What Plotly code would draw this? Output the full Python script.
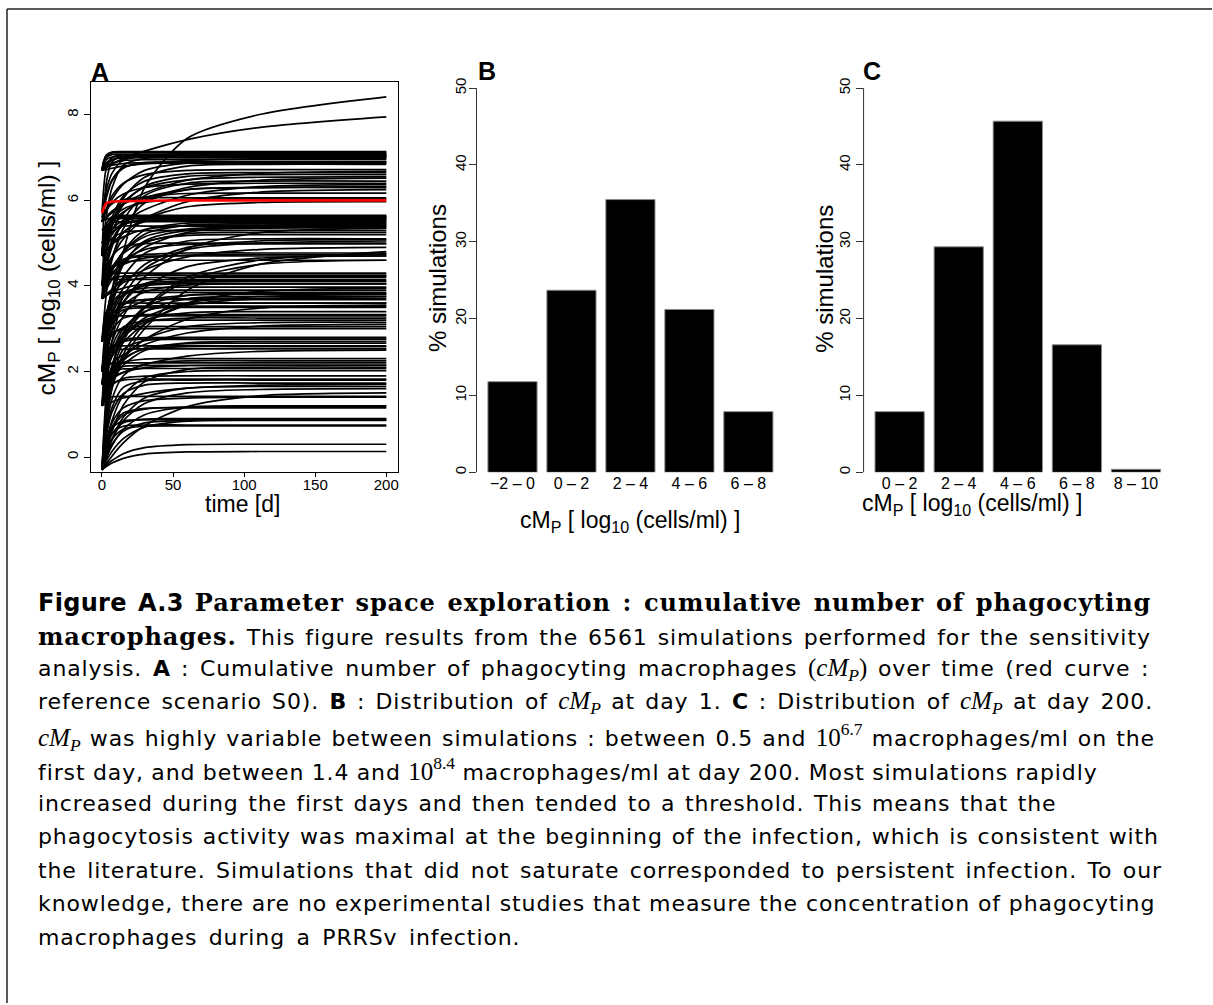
import plotly.graph_objects as go

W, H = 1213, 1005

# ---------------- data ----------------
TIME_D = [0, 1, 3, 7, 15, 30, 60, 110, 200]

CURVES_CMP = [
    [6.7, 6.87, 7.03, 7.11, 7.12, 7.12, 7.12, 7.12, 7.12],
    [6.7, 6.85, 7.0, 7.07, 7.08, 7.08, 7.08, 7.08, 7.08],
    [6.7, 6.75, 6.84, 6.94, 7.02, 7.05, 7.05, 7.05, 7.05],
    [6.7, 6.72, 6.77, 6.85, 6.95, 7.04, 7.09, 7.1, 7.1],
    [6.7, 6.83, 6.95, 7.01, 7.02, 7.02, 7.02, 7.02, 7.02],
    [6.7, 6.74, 6.8, 6.87, 6.93, 6.95, 6.95, 6.95, 6.95],
    [5.5, 5.58, 5.75, 6.02, 6.38, 6.7, 6.87, 6.9, 6.9],
    [5.6, 5.79, 6.11, 6.48, 6.77, 6.86, 6.87, 6.87, 6.87],
    [4.7, 4.83, 5.09, 5.49, 6.05, 6.54, 6.8, 6.84, 6.84],
    [5.7, 5.9, 6.24, 6.63, 6.94, 7.04, 7.05, 7.05, 7.05],
    [4.7, 5.05, 5.62, 6.29, 6.82, 6.98, 7.0, 7.0, 7.0],
    [6.7, 6.71, 6.72, 6.75, 6.8, 6.86, 6.93, 6.97, 6.98],
    [6.7, 6.72, 6.76, 6.85, 6.98, 7.15, 7.42, 7.7, 7.95],
    [2.0, 2.2, 2.6, 3.5, 4.8, 6.3, 7.45, 8.0, 8.42],
    [5.5, 5.54, 5.59, 5.71, 5.91, 6.17, 6.47, 6.63, 6.68],
    [4.7, 4.81, 5.04, 5.4, 5.9, 6.33, 6.56, 6.6, 6.6],
    [5.3, 5.34, 5.4, 5.52, 5.73, 6.0, 6.3, 6.47, 6.52],
    [4.0, 4.15, 4.44, 4.91, 5.54, 6.11, 6.4, 6.45, 6.45],
    [5.0, 5.04, 5.11, 5.25, 5.48, 5.78, 6.12, 6.32, 6.37],
    [4.7, 4.75, 4.82, 4.98, 5.24, 5.58, 5.97, 6.19, 6.25],
    [5.5, 5.54, 5.62, 5.75, 5.92, 6.08, 6.16, 6.17, 6.17],
    [5.6, 5.67, 5.78, 5.92, 6.02, 6.06, 6.06, 6.06, 6.06],
    [4.0, 4.3, 4.8, 5.4, 5.95, 6.3, 6.48, 6.54, 6.55],
    [3.7, 3.86, 4.17, 4.66, 5.34, 5.94, 6.25, 6.3, 6.3],
    [4.7, 5.08, 5.44, 5.62, 5.65, 5.65, 5.65, 5.65, 5.65],
    [4.7, 4.84, 5.06, 5.32, 5.53, 5.59, 5.6, 5.6, 5.6],
    [5.5, 5.53, 5.56, 5.58, 5.58, 5.58, 5.58, 5.58, 5.58],
    [4.0, 4.23, 4.62, 5.07, 5.43, 5.53, 5.55, 5.55, 5.55],
    [4.7, 5.02, 5.32, 5.48, 5.5, 5.5, 5.5, 5.5, 5.5],
    [3.7, 3.81, 4.02, 4.35, 4.8, 5.21, 5.42, 5.45, 5.45],
    [4.7, 4.74, 4.83, 4.97, 5.15, 5.32, 5.41, 5.42, 5.42],
    [2.7, 2.78, 2.91, 3.18, 3.63, 4.21, 4.87, 5.24, 5.35],
    [4.0, 4.65, 5.26, 5.57, 5.62, 5.62, 5.62, 5.62, 5.62],
    [4.7, 4.79, 4.94, 5.11, 5.25, 5.29, 5.3, 5.3, 5.3],
    [3.7, 3.98, 4.45, 5.0, 5.43, 5.56, 5.58, 5.58, 5.58],
    [4.0, 4.07, 4.22, 4.44, 4.76, 5.03, 5.18, 5.2, 5.2],
    [2.7, 2.84, 3.13, 3.59, 4.21, 4.76, 5.05, 5.1, 5.1],
    [4.0, 4.15, 4.4, 4.69, 4.92, 4.99, 5.0, 5.0, 5.0],
    [3.7, 3.74, 3.8, 3.92, 4.12, 4.38, 4.68, 4.85, 4.9],
    [1.2, 1.25, 1.4, 1.75, 2.3, 3.0, 3.9, 4.5, 4.8],
    [3.7, 3.85, 4.1, 4.39, 4.62, 4.69, 4.7, 4.7, 4.7],
    [2.0, 2.08, 2.21, 2.47, 2.91, 3.48, 4.13, 4.5, 4.6],
    [4.0, 4.12, 4.23, 4.29, 4.3, 4.3, 4.3, 4.3, 4.3],
    [4.0, 4.04, 4.1, 4.17, 4.23, 4.25, 4.25, 4.25, 4.25],
    [2.7, 2.93, 3.3, 3.74, 4.08, 4.19, 4.2, 4.2, 4.2],
    [4.0, 4.06, 4.12, 4.15, 4.15, 4.15, 4.15, 4.15, 4.15],
    [3.7, 3.72, 3.77, 3.85, 3.95, 4.04, 4.09, 4.1, 4.1],
    [2.7, 2.78, 2.94, 3.2, 3.55, 3.86, 4.02, 4.05, 4.05],
    [2.0, 2.06, 2.16, 2.35, 2.68, 3.11, 3.6, 3.87, 3.95],
    [2.7, 2.88, 3.18, 3.53, 3.8, 3.89, 3.9, 3.9, 3.9],
    [3.7, 3.76, 3.82, 3.85, 3.85, 3.85, 3.85, 3.85, 3.85],
    [2.7, 2.77, 2.9, 3.11, 3.39, 3.65, 3.78, 3.8, 3.8],
    [1.2, 1.35, 1.66, 2.14, 2.81, 3.39, 3.7, 3.75, 3.75],
    [2.0, 2.26, 2.68, 3.17, 3.56, 3.68, 3.7, 3.7, 3.7],
    [2.7, 3.06, 3.4, 3.57, 3.6, 3.6, 3.6, 3.6, 3.6],
    [1.7, 1.76, 1.85, 2.03, 2.35, 2.75, 3.22, 3.48, 3.55],
    [2.7, 2.82, 3.02, 3.25, 3.44, 3.49, 3.5, 3.5, 3.5],
    [-0.3, 0.1, 0.8, 1.6, 2.4, 3.1, 3.55, 3.7, 3.75],
    [2.0, 2.08, 2.25, 2.52, 2.88, 3.2, 3.37, 3.4, 3.4],
    [2.7, 2.94, 3.17, 3.28, 3.3, 3.3, 3.3, 3.3, 3.3],
    [1.2, 1.5, 2.0, 2.58, 3.04, 3.18, 3.2, 3.2, 3.2],
    [2.0, 2.03, 2.09, 2.2, 2.39, 2.63, 2.9, 3.06, 3.1],
    [2.7, 2.75, 2.82, 2.91, 2.98, 3.0, 3.0, 3.0, 3.0],
    [2.0, 2.12, 2.32, 2.55, 2.74, 2.79, 2.8, 2.8, 2.8],
    [1.2, 1.29, 1.47, 1.76, 2.15, 2.49, 2.67, 2.7, 2.7],
    [2.0, 2.24, 2.47, 2.58, 2.6, 2.6, 2.6, 2.6, 2.6],
    [1.7, 1.72, 1.76, 1.84, 1.98, 2.16, 2.36, 2.47, 2.5],
    [-0.3, 0.16, 0.92, 1.8, 2.51, 2.72, 2.75, 2.75, 2.75],
    [1.2, 1.37, 1.64, 1.96, 2.21, 2.29, 2.3, 2.3, 2.3],
    [2.0, 2.08, 2.16, 2.19, 2.2, 2.2, 2.2, 2.2, 2.2],
    [1.7, 1.73, 1.78, 1.87, 1.98, 2.09, 2.14, 2.15, 2.15],
    [-0.3, -0.16, 0.13, 0.59, 1.21, 1.76, 2.05, 2.1, 2.1],
    [1.2, 1.31, 1.48, 1.68, 1.84, 1.89, 1.9, 1.9, 1.9],
    [-0.3, 0.02, 0.54, 1.15, 1.63, 1.78, 1.8, 1.8, 1.8],
    [1.2, 1.22, 1.24, 1.29, 1.38, 1.49, 1.61, 1.68, 1.7],
    [-0.3, -0.18, 0.05, 0.42, 0.93, 1.38, 1.61, 1.65, 1.65],
    [-0.3, -0.25, -0.16, 0.02, 0.33, 0.73, 1.18, 1.43, 1.5],
    [1.2, 1.29, 1.37, 1.41, 1.42, 1.42, 1.42, 1.42, 1.42],
    [-0.3, -0.21, -0.03, 0.26, 0.65, 0.99, 1.17, 1.2, 1.2],
    [-0.3, -0.08, 0.28, 0.7, 1.03, 1.14, 1.15, 1.15, 1.15],
    [-0.3, -0.12, 0.18, 0.53, 0.8, 0.89, 0.9, 0.9, 0.9],
    [-0.3, -0.23, -0.09, 0.13, 0.43, 0.7, 0.84, 0.86, 0.86],
    [-0.3, -0.15, 0.11, 0.41, 0.65, 0.72, 0.73, 0.73, 0.73],
    [-0.3, -0.26, -0.19, -0.08, 0.08, 0.22, 0.29, 0.3, 0.3],
    [-0.3, -0.27, -0.22, -0.14, -0.03, 0.07, 0.12, 0.13, 0.13],
    [6.7, 6.9, 7.06, 7.13, 7.14, 7.14, 7.14, 7.14, 7.14],
    [5.7, 6.2, 6.75, 7.0, 7.06, 7.07, 7.07, 7.07, 7.07],
    [4.7, 5.5, 6.4, 6.9, 7.03, 7.04, 7.04, 7.04, 7.04],
    [6.7, 6.78, 6.88, 6.96, 6.99, 7.0, 7.0, 7.0, 7.0],
    [5.5, 5.7, 6.05, 6.45, 6.75, 6.88, 6.9, 6.9, 6.9],
    [6.7, 6.73, 6.77, 6.82, 6.86, 6.88, 6.88, 6.88, 6.88],
    [4.7, 5.1, 5.45, 5.6, 5.63, 5.63, 5.63, 5.63, 5.63],
    [3.7, 4.3, 5.0, 5.45, 5.6, 5.61, 5.61, 5.61, 5.61],
    [2.7, 3.1, 3.8, 4.6, 5.25, 5.5, 5.55, 5.55, 5.55],
    [4.0, 4.3, 4.8, 5.2, 5.45, 5.52, 5.52, 5.52, 5.52],
    [1.2, 1.8, 2.8, 3.9, 4.8, 5.3, 5.47, 5.48, 5.48],
    [4.7, 4.9, 5.15, 5.33, 5.4, 5.4, 5.4, 5.4, 5.4],
    [2.0, 2.3, 2.9, 3.7, 4.5, 5.05, 5.3, 5.35, 5.35],
    [3.7, 3.8, 4.0, 4.35, 4.8, 5.15, 5.33, 5.37, 5.38],
    [2.7, 2.9, 3.3, 3.9, 4.55, 5.0, 5.22, 5.25, 5.25],
    [1.7, 1.9, 2.3, 2.95, 3.75, 4.4, 4.85, 5.0, 5.05],
    [3.7, 3.8, 3.98, 4.25, 4.58, 4.85, 4.97, 4.98, 4.98],
    [1.2, 1.3, 1.55, 2.0, 2.7, 3.5, 4.2, 4.6, 4.75],
    [4.0, 4.1, 4.25, 4.45, 4.62, 4.73, 4.77, 4.77, 4.77],
    [2.0, 2.5, 3.2, 3.85, 4.18, 4.25, 4.25, 4.25, 4.25],
    [-0.3, 0.4, 1.5, 2.7, 3.6, 4.05, 4.2, 4.22, 4.22],
    [1.2, 1.6, 2.3, 3.1, 3.75, 4.05, 4.12, 4.12, 4.12],
    [1.7, 2.0, 2.6, 3.3, 3.8, 4.0, 4.05, 4.05, 4.05],
    [2.7, 2.9, 3.25, 3.6, 3.85, 3.95, 3.97, 3.97, 3.97],
    [-0.3, 0.2, 1.0, 2.0, 2.9, 3.5, 3.78, 3.82, 3.82],
    [2.0, 2.3, 2.8, 3.3, 3.6, 3.68, 3.68, 3.68, 3.68],
    [1.2, 1.4, 1.8, 2.4, 3.0, 3.4, 3.58, 3.6, 3.6],
    [2.7, 2.85, 3.1, 3.35, 3.5, 3.53, 3.53, 3.53, 3.53],
    [1.7, 1.8, 2.0, 2.35, 2.8, 3.25, 3.6, 3.75, 3.8],
    [-0.3, 0.3, 1.2, 2.1, 2.8, 3.15, 3.25, 3.25, 3.25],
    [1.7, 2.0, 2.5, 2.95, 3.25, 3.33, 3.33, 3.33, 3.33],
    [1.2, 1.3, 1.5, 1.85, 2.3, 2.75, 3.05, 3.14, 3.15],
    [2.0, 2.2, 2.55, 2.85, 3.02, 3.05, 3.05, 3.05, 3.05],
    [1.7, 1.9, 2.2, 2.5, 2.7, 2.76, 2.76, 2.76, 2.76],
    [-0.3, 0.1, 0.8, 1.6, 2.25, 2.55, 2.65, 2.66, 2.66],
    [1.2, 1.35, 1.6, 1.95, 2.3, 2.52, 2.58, 2.58, 2.58],
    [2.0, 2.15, 2.35, 2.48, 2.52, 2.53, 2.53, 2.53, 2.53],
    [-0.3, 0.05, 0.65, 1.35, 1.9, 2.18, 2.25, 2.25, 2.25],
    [1.2, 1.45, 1.75, 2.0, 2.12, 2.14, 2.14, 2.14, 2.14],
    [1.7, 1.8, 1.92, 2.02, 2.06, 2.07, 2.07, 2.07, 2.07],
    [-0.3, -0.1, 0.3, 0.85, 1.45, 1.85, 2.0, 2.02, 2.02],
    [1.2, 1.35, 1.55, 1.72, 1.8, 1.82, 1.82, 1.82, 1.82],
    [-0.3, 0.0, 0.5, 1.05, 1.48, 1.68, 1.73, 1.73, 1.73],
    [-0.3, -0.2, 0.05, 0.4, 0.85, 1.25, 1.5, 1.58, 1.6],
    [-0.3, -0.05, 0.35, 0.8, 1.15, 1.32, 1.38, 1.4, 1.4],
    [-0.3, -0.1, 0.25, 0.65, 0.98, 1.12, 1.17, 1.18, 1.18],
    [-0.3, -0.05, 0.35, 0.68, 0.84, 0.87, 0.87, 0.87, 0.87],
    [-0.3, -0.1, 0.25, 0.55, 0.72, 0.75, 0.75, 0.75, 0.75],
    [-0.3, -0.2, 0.0, 0.3, 0.6, 0.8, 0.86, 0.88, 0.88],
    [5.5, 5.6, 5.75, 5.95, 6.15, 6.3, 6.38, 6.4, 6.4],
    [4.7, 4.8, 5.0, 5.3, 5.7, 6.05, 6.25, 6.3, 6.32],
    [5.0, 5.1, 5.3, 5.55, 5.8, 5.95, 6.02, 6.03, 6.03],
    [4.0, 4.1, 4.3, 4.65, 5.1, 5.55, 5.85, 5.95, 5.97],
    [3.7, 3.78, 3.92, 4.15, 4.5, 4.9, 5.25, 5.4, 5.45],
    [2.7, 2.8, 3.0, 3.4, 3.95, 4.5, 4.9, 5.05, 5.08],
    [4.0, 4.05, 4.15, 4.3, 4.5, 4.65, 4.72, 4.73, 4.73],
    [3.7, 3.9, 4.15, 4.4, 4.55, 4.6, 4.6, 4.6, 4.6],
    [2.0, 2.1, 2.3, 2.7, 3.3, 3.95, 4.45, 4.65, 4.7],
    [5.5, 5.6, 5.8, 6.1, 6.4, 6.6, 6.7, 6.72, 6.72],
    [4.7, 4.85, 5.15, 5.6, 6.1, 6.45, 6.62, 6.65, 6.65],
]

REF_S0 = [5.7, 5.8, 5.93, 5.97, 5.98, 5.99, 6.0, 6.0, 6.0]

A_XTICKS = [0, 50, 100, 150, 200]
A_YTICKS = [0, 2, 4, 6, 8]

B_CATS = ["\u22122 \u2013 0", "0 \u2013 2", "2 \u2013 4", "4 \u2013 6", "6 \u2013 8"]
B_PCT = [11.8, 23.7, 35.5, 21.2, 7.9]
C_CATS = ["0 \u2013 2", "2 \u2013 4", "4 \u2013 6", "6 \u2013 8", "8 \u2013 10"]
C_PCT = [7.9, 29.35, 45.7, 16.6, 0.4]
PCT_TICKS = [0, 10, 20, 30, 40, 50]

# ---------------- helpers ----------------
def px(x):
    return x / W

def py(y):
    return 1 - y / H

SANS = "Liberation Sans"
CAP_SANS = "DejaVu Sans"
CAP_SERIF = "DejaVu Serif"
MATH = "Liberation Serif"

fig = go.Figure()

for c in CURVES_CMP:
    fig.add_trace(go.Scatter(x=TIME_D, y=c, mode="lines", xaxis="x", yaxis="y",
                             line=dict(color="black", width=1.7, shape="spline", smoothing=0.8),
                             showlegend=False, hoverinfo="skip"))
fig.add_trace(go.Scatter(x=TIME_D, y=REF_S0, mode="lines", xaxis="x", yaxis="y",
                         line=dict(color="#ff0000", width=2.6, shape="spline", smoothing=0.8),
                         showlegend=False, hoverinfo="skip"))

fig.add_trace(go.Bar(x=B_CATS, y=B_PCT, xaxis="x2", yaxis="y2",
                     marker=dict(color="black", line=dict(color="#8a8a8a", width=1)),
                     showlegend=False, hoverinfo="skip"))
fig.add_trace(go.Bar(x=C_CATS, y=C_PCT, xaxis="x3", yaxis="y3",
                     marker=dict(color="black", line=dict(color="#8a8a8a", width=1)),
                     showlegend=False, hoverinfo="skip"))

tickfont = dict(family=SANS, size=15, color="black")
cattickfont = dict(family=SANS, size=16, color="black")

fig.update_layout(
    width=W, height=H, margin=dict(l=0, r=0, t=0, b=0),
    paper_bgcolor="white", plot_bgcolor="white",
    bargap=0.1667,
    xaxis=dict(domain=[px(90.7), px(398)], range=[-8, 208], tickvals=A_XTICKS,
               showline=True, mirror=True, linecolor="black", linewidth=1,
               ticks="outside", ticklen=4, tickcolor="black", showgrid=False, zeroline=False,
               tickfont=tickfont, ticklabelstandoff=-5, anchor="y"),
    yaxis=dict(domain=[py(473), py(82)], range=[-0.35, 8.77], tickvals=A_YTICKS,
               showline=True, mirror=True, linecolor="black", linewidth=1,
               ticks="outside", ticklen=6, tickcolor="black", showgrid=False, zeroline=False,
               tickfont=tickfont, tickangle=-90, anchor="x"),
    xaxis2=dict(domain=[px(476.9), px(785)], type="category", range=[-0.61, 4.61],
                showline=False, ticks="", showgrid=False, zeroline=False,
                tickfont=cattickfont, anchor="y2"),
    yaxis2=dict(domain=[py(473.3), py(72.9)], range=[0, 52], tickvals=PCT_TICKS,
                showline=False, ticks="outside", ticklen=7, tickcolor="#333",
                showgrid=False, zeroline=False, tickfont=tickfont, tickangle=-90,
                ticklabelstandoff=-3, anchor="x2"),
    xaxis3=dict(domain=[px(864.3), px(1173)], type="category", range=[-0.61, 4.61],
                showline=False, ticks="", showgrid=False, zeroline=False,
                tickfont=cattickfont, anchor="y3"),
    yaxis3=dict(domain=[py(473.3), py(72.9)], range=[0, 52], tickvals=PCT_TICKS,
                showline=False, ticks="outside", ticklen=7, tickcolor="#333",
                showgrid=False, zeroline=False, tickfont=tickfont, tickangle=-90, anchor="x3"),
)

shapes = [
    dict(type="line", xref="x2 domain", yref="y2", x0=0, x1=0, y0=0, y1=50,
         line=dict(color="#333", width=1)),
    dict(type="line", xref="x3 domain", yref="y3", x0=0, x1=0, y0=0, y1=50,
         line=dict(color="#333", width=1)),
    dict(type="line", xref="paper", yref="paper", x0=px(7), x1=px(1213), y0=py(9), y1=py(9),
         line=dict(color="#222", width=1.5)),
    dict(type="line", xref="paper", yref="paper", x0=px(7), x1=px(7), y0=py(9), y1=py(1005),
         line=dict(color="#222", width=1.5)),
]
fig.update_layout(shapes=shapes)

ann = []
def add(text, x, y, size, angle=0, xanchor="center", yanchor="middle", family=SANS):
    ann.append(dict(text=text, x=px(x), y=py(y), xref="paper", yref="paper",
                    showarrow=False, textangle=angle, xanchor=xanchor, yanchor=yanchor,
                    font=dict(family=family, size=size, color="black")))

CMP_LBL = "cM<sub>P</sub> [ log<sub>10</sub> (cells/ml) ]"
add("<b>A</b>", 100, 72, 25)
add("<b>B</b>", 487, 71, 25)
add("<b>C</b>", 873, 71, 25)
add(CMP_LBL, 48, 278, 24.5, angle=-90)
add("time [d]", 243, 505, 23)
add("% simulations", 438, 279, 24, angle=-90)
add(CMP_LBL, 631, 523, 23)
add("% simulations", 825, 279, 24, angle=-90)
add(CMP_LBL, 973, 506, 23)

# caption: segments (kind, text)
STYLES = {
    "s": "font-family:'%s';font-size:22px;letter-spacing:0.9px" % CAP_SANS,
    "sb": "font-family:'%s';font-weight:bold;font-size:22px;letter-spacing:0.3px" % CAP_SANS,
    "fb": "font-family:'%s';font-weight:bold;font-size:24px;letter-spacing:0.3px" % CAP_SANS,
    "hb": "font-family:'%s';font-weight:bold;font-size:24px;letter-spacing:0.9px" % CAP_SERIF,
    "m": "font-family:'%s';font-style:italic;font-size:25px" % MATH,
    "r": "font-family:'%s';font-size:25px" % MATH,
}

def seg_html(kind, text, ws):
    st = STYLES[kind] + ";word-spacing:%.2fpx" % ws
    return "<span style=\"%s\">%s</span>" % (st, text)

CMP_SEG = [("m", "cM<sub>P</sub>")]

CAPTION = [
    [("fb", "Figure A.3 "), ("hb", "Parameter space exploration : cumulative number of phagocyting")],
    [("hb", "macrophages."), ("s", " This figure results from the 6561 simulations performed for the sensitivity")],
    [("s", "analysis. "), ("sb", "A"), ("s", " : Cumulative number of phagocyting macrophages "), ("r", "(")]
    + CMP_SEG + [("r", ")"), ("s", " over time (red curve :")],
    [("s", "reference scenario S0). "), ("sb", "B"), ("s", " : Distribution of ")] + CMP_SEG
    + [("s", " at day 1. "), ("sb", "C"), ("s", " : Distribution of ")] + CMP_SEG + [("s", " at day 200.")],
    CMP_SEG + [("s", " was highly variable between simulations : between 0.5 and "), ("r", "10<sup>6.7</sup>"),
               ("s", " macrophages/ml on the")],
    [("s", "first day, and between 1.4 and "), ("r", "10<sup>8.4</sup>"),
     ("s", " macrophages/ml at day 200. Most simulations rapidly")],
    [("s", "increased during the first days and then tended to a threshold. This means that the")],
    [("s", "phagocytosis activity was maximal at the beginning of the infection, which is consistent with")],
    [("s", "the literature. Simulations that did not saturate corresponded to persistent infection. To our")],
    [("s", "knowledge, there are no experimental studies that measure the concentration of phagocyting")],
    [("s", "macrophages during a PRRSv infection.")],
]
CAP_Y = [604, 638, 671, 704, 738, 771, 805, 838, 872, 905, 939]
CAP_WS = [2.5, 2.1, 2.8, 2.4, 1.3, -0.5, 1.6, 1.0, 2.5, 0, 3.5]

for segs, yy, ws in zip(CAPTION, CAP_Y, CAP_WS):
    html = "".join(seg_html(k, t, ws) for k, t in segs)
    add(html, 36, yy, 22, xanchor="left", family=CAP_SANS)

fig.update_layout(annotations=ann)
fig.write_html("out.html", config={"displayModeBar": False},
               post_script="document.body.style.margin='0';")
